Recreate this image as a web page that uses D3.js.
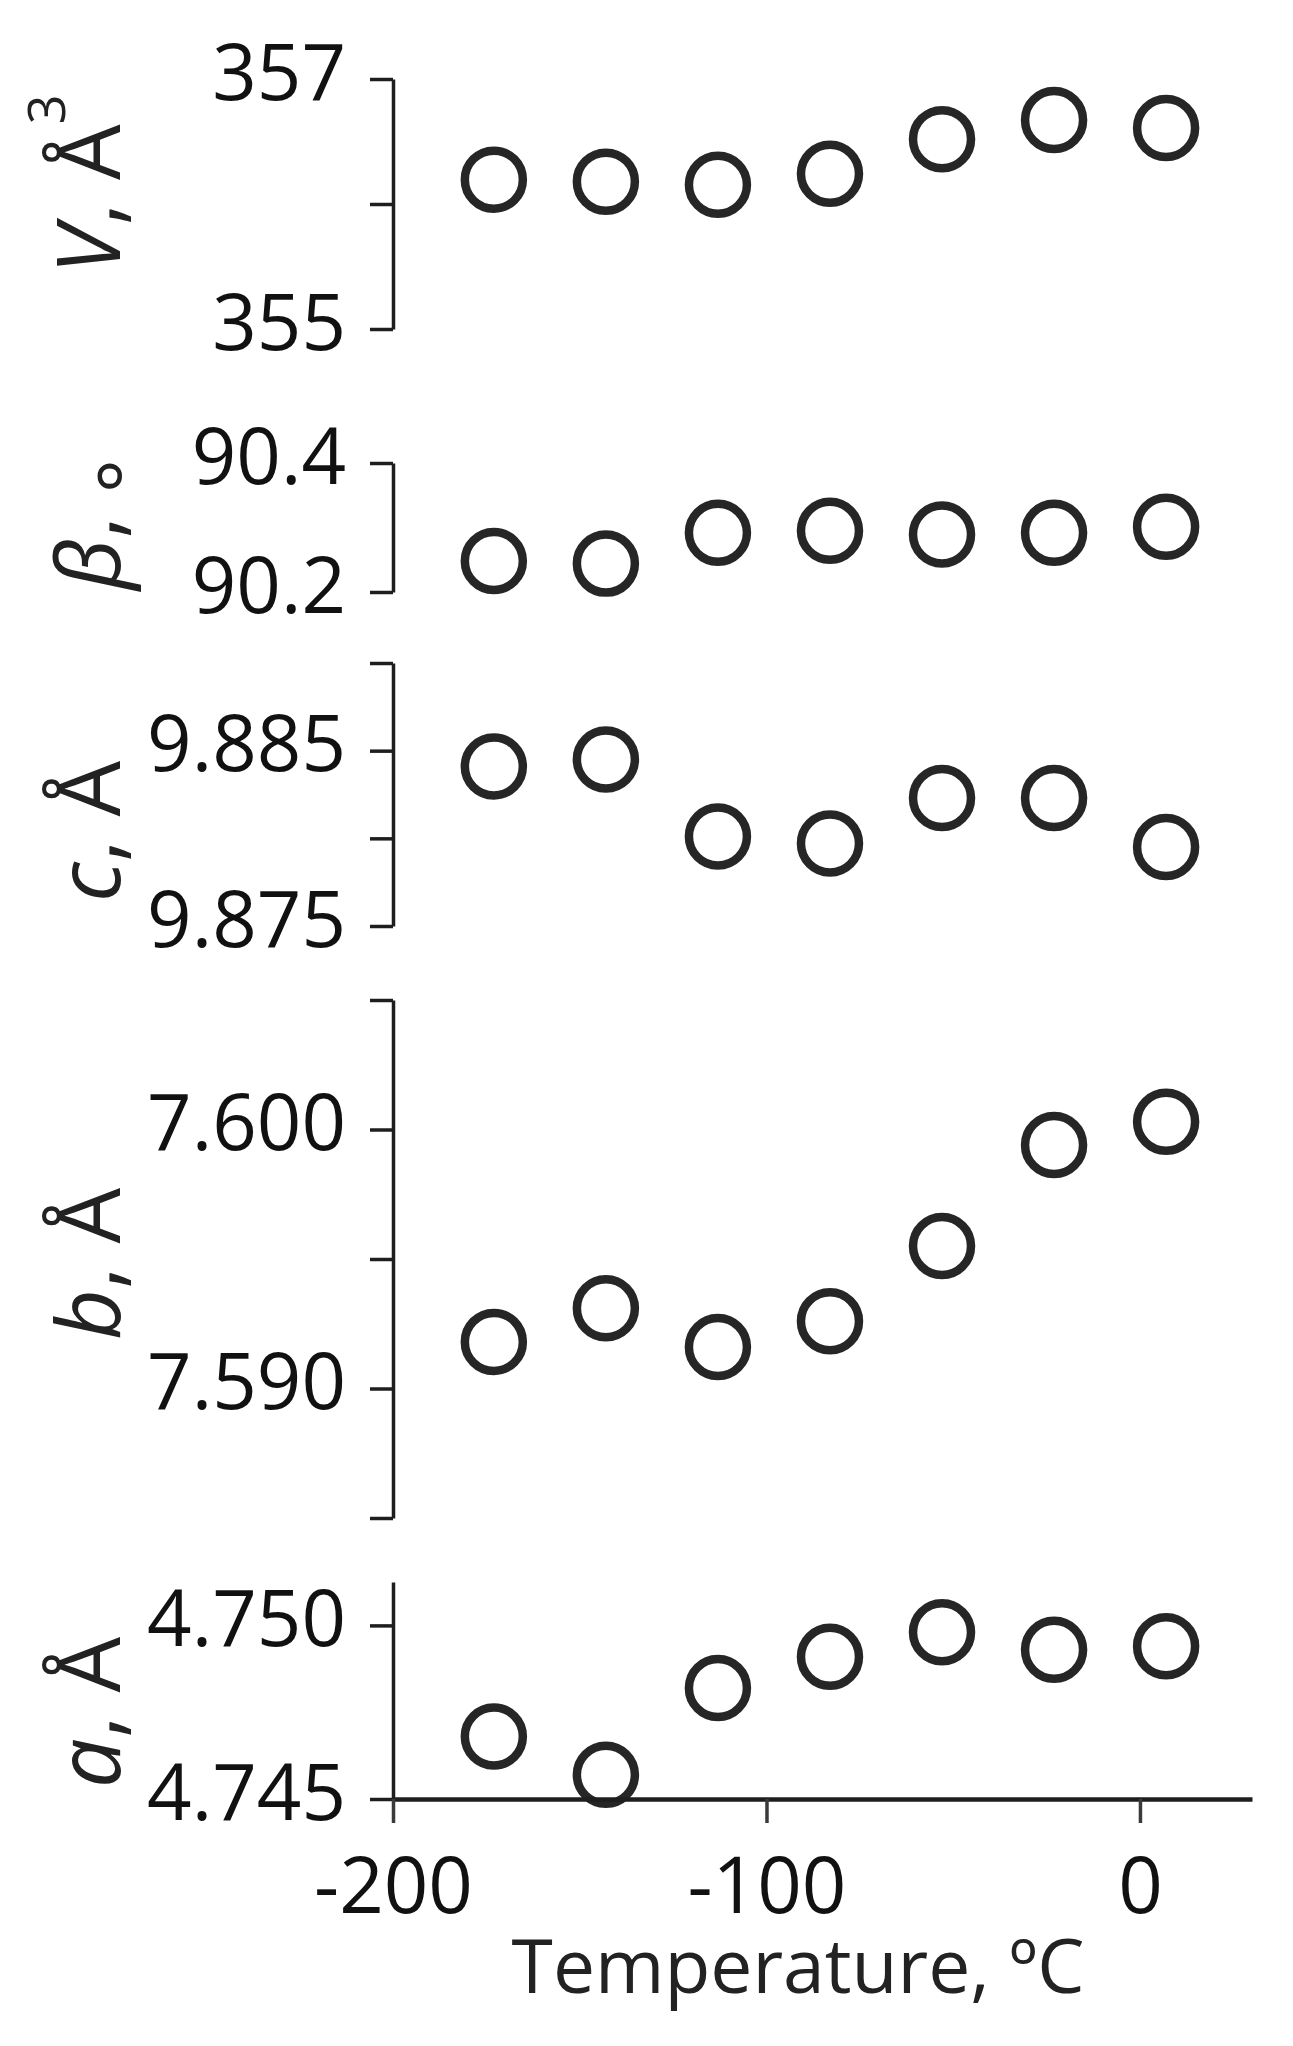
<!DOCTYPE html>
<html lang="en">
<head>
    <meta charset="UTF-8">
    <style>
        body { margin: 0; background: #fff; }
        svg { display: block; }
        .tick text { font-family: "Open Sans", sans-serif; fill: #111; }
        .title { font-family: "Open Sans", sans-serif; fill: #222; }
    </style>
    <script src="https://d3js.org/d3.v7.min.js"></script>
</head>
<body>
    <div id="chart"></div>

    <script>
        // temperatures (100 K ... 280 K in steps of 30 K), in degrees C
        var temperatures = [-173, -143, -113, -83, -53, -23, 7];

        // lattice parameters
        var cellVolume = [356.195, 356.179, 356.154, 356.242, 356.519, 356.672, 356.608];
        var betaAngle = [90.248, 90.244, 90.292, 90.295, 90.289, 90.292, 90.301];
        var cLength = [9.8841, 9.8845, 9.8801, 9.8797, 9.8823, 9.8823, 9.8795];
        var bLength = [7.5918, 7.5931, 7.5916, 7.5926, 7.5955, 7.5994, 7.6003];
        var aLength = [4.7468, 4.7457, 4.7482, 4.7491, 4.7498, 4.7493, 4.7494];

        // ticks and which of them carry a label
        var xTicks = [-200, -100, 0];
        var vTicks = [355, 356, 357], vLabels = [355, 357];
        var betaTicks = [90.2, 90.4], betaLabels = [90.2, 90.4];
        var cTicks = [9.875, 9.880, 9.885, 9.890], cLabels = [9.875, 9.885];
        var bTicks = [7.585, 7.590, 7.595, 7.600, 7.605], bLabels = [7.590, 7.600];
        var aTicks = [4.745, 4.750], aLabels = [4.745, 4.750];

        var width = 1293, height = 2046;
        var axisX = 393;

        var svg = d3.select("#chart")
            .append("svg")
            .attr("width", width)
            .attr("height", height);

        var x = d3.scaleLinear()
            .domain([-200, 30])
            .range([axisX, 1252]);

        // one entry per stacked panel: data, y domain and where it sits on the page
        var panels = [
            { values: cellVolume, domain: [355, 357], range: [329, 79], ticks: vTicks, labels: vLabels, fmt: "d",
              title: "V", unit: ", Å", sup: "3", titleStart: 274 },
            { values: betaAngle, domain: [90.2, 90.4], range: [592, 463], ticks: betaTicks, labels: betaLabels, fmt: ".1f",
              title: "β", unit: ", ", deg: "°", titleStart: 590 },
            { values: cLength, domain: [9.875, 9.890], range: [926, 663], ticks: cTicks, labels: cLabels, fmt: ".3f",
              title: "c", unit: ", Å", titleStart: 902 },
            { values: bLength, domain: [7.585, 7.605], range: [1518, 1000], ticks: bTicks, labels: bLabels, fmt: ".3f",
              title: "b", unit: ", Å", titleStart: 1340 },
            { values: aLength, domain: [4.745, 4.75125], range: [1799, 1582], ticks: aTicks, labels: aLabels, fmt: ".3f",
              title: "a", unit: ", Å", titleStart: 1788 }
        ];

        panels.forEach(function (p) {
            var y = d3.scaleLinear().domain(p.domain).range(p.range);
            var f = d3.format(p.fmt);

            var g = svg.append("g")
                .attr("transform", "translate(" + axisX + ",0)")
                .call(d3.axisLeft(y)
                    .tickValues(p.ticks)
                    .tickSize(23)
                    .tickSizeOuter(0)
                    .tickPadding(24)
                    .tickFormat(function (d) {
                        return p.labels.some(function (l) { return Math.abs(l - d) < 1e-9; }) ? f(d) : "";
                    }));

            g.select(".domain").attr("stroke", "#1e1e1e").attr("stroke-width", 3.5);
            g.selectAll(".tick line").attr("stroke", "#1e1e1e").attr("stroke-width", 3.5);
            g.selectAll(".tick text")
                .attr("font-size", 78)
                .attr("dy", "0.26em");

            svg.append("g")
                .selectAll("circle")
                .data(p.values)
                .enter()
                .append("circle")
                .attr("cx", function (d, i) { return x(temperatures[i]); })
                .attr("cy", function (d) { return y(d); })
                .attr("r", 29)
                .attr("fill", "none")
                .attr("stroke", "#262626")
                .attr("stroke-width", 8.5);

            // rotated axis title
            var t = svg.append("text")
                .attr("class", "title")
                .attr("font-size", 88)
                .attr("text-anchor", "start")
                .attr("transform", "translate(120," + p.titleStart + ") rotate(-90)");
            t.append("tspan").attr("font-style", "italic").text(p.title);
            t.append("tspan").text(p.unit);
            if (p.sup) {
                t.append("tspan").attr("font-size", 52).attr("dy", -55).text(p.sup);
            }
            if (p.deg) {
                t.append("tspan").attr("font-size", 80).attr("dy", 36).text(p.deg);
            }
        });

        // bottom axis, plain hyphen for the minus sign as in the original
        var gx = svg.append("g")
            .attr("transform", "translate(0,1799)")
            .call(d3.axisBottom(x)
                .tickValues(xTicks)
                .tickSize(24)
                .tickSizeOuter(0)
                .tickPadding(35)
                .tickFormat(function (d) { return String(d); }));

        gx.select(".domain").attr("stroke", "#1e1e1e").attr("stroke-width", 4.5);
        gx.selectAll(".tick line").attr("stroke", "#3a3a3a").attr("stroke-width", 3.5);
        gx.selectAll(".tick text").attr("font-size", 78);

        svg.append("text")
            .attr("class", "title")
            .attr("x", 798)
            .attr("y", 1993)
            .attr("text-anchor", "middle")
            .attr("font-size", 75)
            .attr("fill", "#333")
            .text("Temperature, ºC");
    </script>
</body>
</html>
